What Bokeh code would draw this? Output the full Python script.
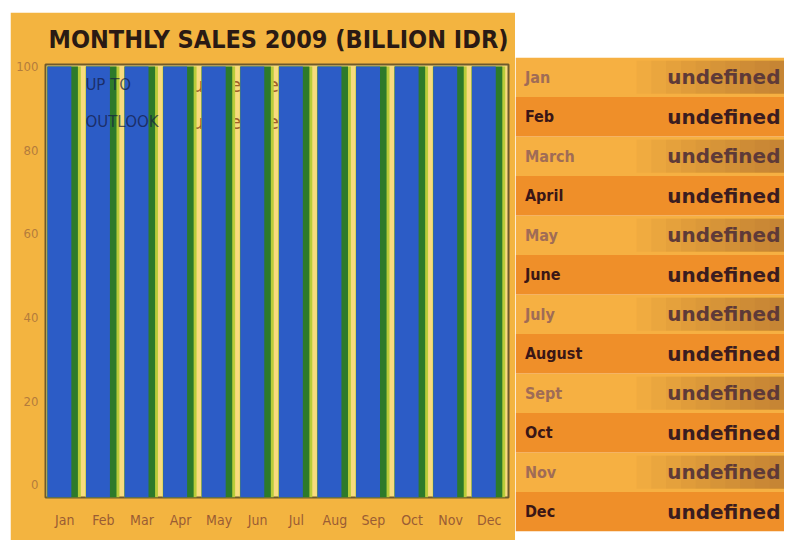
from bokeh.plotting import figure
from bokeh.models import FactorRange, Range1d, FixedTicker, ColumnDataSource, Spacer
from bokeh.layouts import row, column
from bokeh.transform import dodge
from bokeh.core.properties import value
from bokeh.embed import file_html
from bokeh.resources import INLINE

# ---- data ----
months = ["Jan", "Feb", "Mar", "Apr", "May", "Jun", "Jul", "Aug", "Sep", "Oct", "Nov", "Dec"]
sales = [100, 100, 100, 100, 100, 100, 100, 100, 100, 100, 100, 100]
y_ticks = [0, 20, 40, 60, 80, 100]
table_months = ["Jan", "Feb", "March", "April", "May", "June", "July", "August", "Sept", "Oct", "Nov", "Dec"]
table_values = ["undefined"] * 12
overlay_labels = ["UP TO", "OUTLOOK"]
overlay_values = ["undefined", "undefined"]

NARROW = "'DejaVu Sans Condensed', 'DejaVu Sans'"
BOLD = "DejaVu Sans"

# ---- left: bar chart ----
p = figure(width=505, height=528, x_range=FactorRange(*months), y_range=Range1d(-3, 100.5),
           output_backend="svg", toolbar_location=None,
           min_border_left=35, min_border_right=7, min_border_top=50, min_border_bottom=43)
p.background_fill_color = "#f8db7e"
p.border_fill_color = "#f3b440"
p.outline_line_color = "#6e5a2c"
p.outline_line_width = 2
p.grid.visible = False

p.title.text = "MONTHLY SALES 2009  (BILLION IDR)"
p.title.text_font = NARROW
p.title.text_font_size = "25px"
p.title.text_font_style = "bold"
p.title.text_color = "#2a1a14"
p.title.align = "left"
p.title.offset = 3
p.title.standoff = 21

src = ColumnDataSource(dict(month=months, sales=sales))

# overlay value text that sits behind the bars
for lab_y, txt in zip([95.5, 86.8], overlay_values):
    p.text(x=["May"], y=[lab_y], text=[txt], x_offset=-28, text_font=value(BOLD),
           text_font_size="20px", text_color="#a0602a", text_baseline="middle")

p.vbar(x=dodge("month", -0.025, range=p.x_range), top="sales", bottom=-3, width=0.88,
       source=src, color="#b9cc3a", line_color=None)
p.vbar(x=dodge("month", -0.055, range=p.x_range), top="sales", bottom=-3, width=0.79,
       source=src, color="#2d7a2a", line_color=None)
p.vbar(x=dodge("month", -0.14, range=p.x_range), top="sales", bottom=-3, width=0.62,
       source=src, color="#2c5cc6", line_color=None)

for lab_y, txt in zip([95.5, 86.8], overlay_labels):
    p.text(x=["Feb"], y=[lab_y], text=[txt], x_offset=-18, text_font=value(BOLD),
           text_font_size="15px", text_color="#141a40", text_alpha=0.7, text_baseline="middle")

p.yaxis.ticker = FixedTicker(ticks=y_ticks)
for ax in (p.xaxis[0], p.yaxis[0]):
    ax.axis_line_color = None
    ax.major_tick_line_color = None
    ax.minor_tick_line_color = None
    ax.major_tick_out = 0
    ax.major_tick_in = 0
    ax.minor_tick_out = 0
    ax.major_label_text_font = NARROW
p.yaxis.major_label_text_font_size = "13px"
p.xaxis.major_label_text_font_size = "14px"
p.yaxis.major_label_text_color = "#b47c3c"
p.yaxis.major_label_standoff = 7
p.xaxis.major_label_text_color = "#9a5c34"
p.xaxis.major_label_standoff = 14

left = column(Spacer(height=12), p)

# ---- right: month table ----
idx = list(range(len(table_months)))
t = figure(width=269, height=540, x_range=Range1d(0, 1), y_range=Range1d(12, 0),
           output_backend="svg", toolbar_location=None,
           min_border_left=0, min_border_right=0, min_border_top=57, min_border_bottom=9)
t.axis.visible = False
t.grid.visible = False
t.outline_line_color = None
t.background_fill_color = "white"
t.border_fill_color = "white"

odd = [i for i in idx if i % 2 == 0]
even = [i for i in idx if i % 2 == 1]
t.quad(left=0, right=1, top=[i for i in odd], bottom=[i + 1 for i in odd], color="#f6b042", line_color=None)
t.quad(left=0, right=1, top=[i for i in even], bottom=[i + 1 for i in even], color="#ef8f29", line_color=None)
# darker shading towards the right on the lighter rows
for k in range(10):
    t.quad(left=0.45 + 0.055 * k, right=1, top=[i + 0.08 for i in odd], bottom=[i + 0.92 for i in odd],
           color="#8a4630", alpha=0.05, line_color=None)

t.text(x=0.035, y=[i + 0.5 for i in odd], text=[table_months[i] for i in odd], text_font=value(NARROW),
       text_font_size="16px", text_font_style="bold", text_color="#a06c56", text_baseline="middle")
t.text(x=0.035, y=[i + 0.5 for i in even], text=[table_months[i] for i in even], text_font=value(NARROW),
       text_font_size="16px", text_font_style="bold", text_color="#3a1616", text_baseline="middle")
t.text(x=0.985, y=[i + 0.5 for i in odd], text=[table_values[i] for i in odd], text_font=value(BOLD),
       text_font_size="20px", text_font_style="bold", text_color="#5e3a38", text_align="right",
       text_baseline="middle")
t.text(x=0.985, y=[i + 0.5 for i in even], text=[table_values[i] for i in even], text_font=value(BOLD),
       text_font_size="20px", text_font_style="bold", text_color="#3a1c20", text_align="right",
       text_baseline="middle")

layout = row(Spacer(width=10), left, t)
open("out.html", "w").write(file_html(layout, INLINE))
